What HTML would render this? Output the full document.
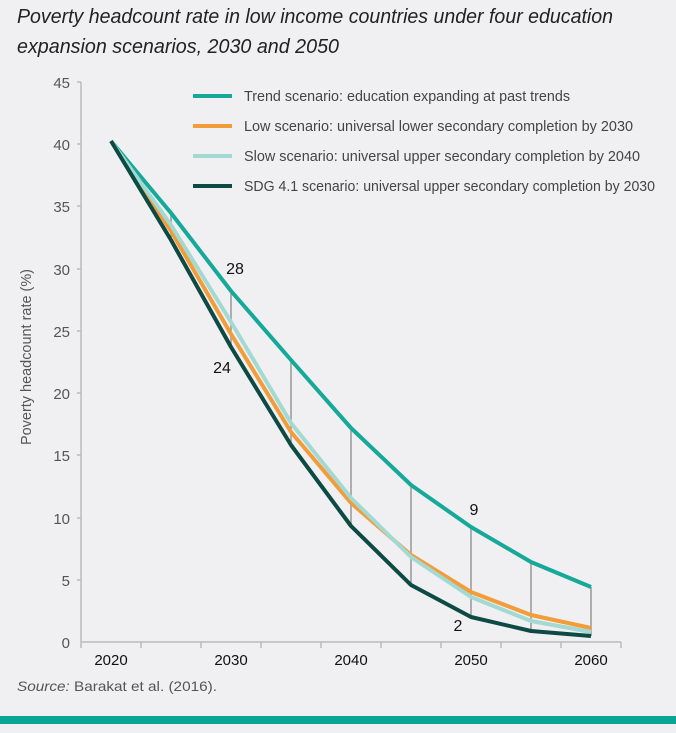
<!DOCTYPE html>
<html><head><meta charset="utf-8"><style>
body{margin:0;background:#f0f0f2;}
svg{display:block;font-family:"Liberation Sans",sans-serif;}
</style></head><body>
<svg width="676" height="733" viewBox="0 0 676 733">
<rect width="676" height="733" fill="#f0f0f2"/>
<text x="17" y="23" font-size="20" font-style="italic" fill="#222" textLength="596" lengthAdjust="spacingAndGlyphs">Poverty headcount rate in low income countries under four education</text>
<text x="17" y="53" font-size="20" font-style="italic" fill="#222" textLength="322" lengthAdjust="spacingAndGlyphs">expansion scenarios, 2030 and 2050</text>
<line x1="81" y1="82" x2="81" y2="642" stroke="#bbb" stroke-width="1.5"/>
<line x1="81" y1="642" x2="621" y2="642" stroke="#bbb" stroke-width="1.5"/>
<g stroke="#bbb" stroke-width="1.5">
<line x1="77" y1="82" x2="81" y2="82"/><line x1="77" y1="144" x2="81" y2="144"/><line x1="77" y1="206" x2="81" y2="206"/><line x1="77" y1="269" x2="81" y2="269"/><line x1="77" y1="331" x2="81" y2="331"/><line x1="77" y1="393" x2="81" y2="393"/><line x1="77" y1="455" x2="81" y2="455"/><line x1="77" y1="518" x2="81" y2="518"/><line x1="77" y1="580" x2="81" y2="580"/>
<line x1="81" y1="642" x2="81" y2="648"/><line x1="141" y1="642" x2="141" y2="648"/><line x1="201" y1="642" x2="201" y2="648"/><line x1="261" y1="642" x2="261" y2="648"/><line x1="321" y1="642" x2="321" y2="648"/><line x1="381" y1="642" x2="381" y2="648"/><line x1="441" y1="642" x2="441" y2="648"/><line x1="501" y1="642" x2="501" y2="648"/><line x1="561" y1="642" x2="561" y2="648"/><line x1="621" y1="642" x2="621" y2="648"/>
</g>
<g font-size="15" fill="#555" text-anchor="end">
<text x="70" y="88">45</text><text x="70" y="150">40</text><text x="70" y="212">35</text><text x="70" y="275">30</text><text x="70" y="337">25</text><text x="70" y="399">20</text><text x="70" y="461">15</text><text x="70" y="524">10</text><text x="70" y="586">5</text><text x="70" y="648">0</text>
</g>
<g font-size="15" fill="#111" text-anchor="middle">
<text x="111" y="665">2020</text><text x="231" y="665">2030</text><text x="351" y="665">2040</text><text x="471" y="665">2050</text><text x="591" y="665">2060</text>
</g>
<text transform="translate(31,357) rotate(-90)" font-size="15" fill="#555" text-anchor="middle" textLength="176" lengthAdjust="spacingAndGlyphs">Poverty headcount rate (%)</text>
<g stroke="#999" stroke-width="1.5">
<line x1="171" y1="213" x2="171" y2="240"/>
<line x1="231" y1="291" x2="231" y2="347"/>
<line x1="291" y1="360" x2="291" y2="445"/>
<line x1="351" y1="428" x2="351" y2="526"/>
<line x1="411" y1="485" x2="411" y2="585"/>
<line x1="471" y1="527" x2="471" y2="617"/>
<line x1="531" y1="562" x2="531" y2="631"/>
<line x1="591" y1="587" x2="591" y2="636"/>
</g>
<g fill="none" stroke-width="4" stroke-linejoin="round">
<polyline stroke="#16a99a" points="111,141 171,213 231,291 291,360 351,428 411,485 471,527 531,562 591,587"/>
<polyline stroke="#f39c3a" points="111,141 171,231 231,334 291,432 351,503 411,555 471,592 531,615 591,628"/>
<polyline stroke="#a3d9d3" points="111,141 171,225 231,322 291,423 351,498 411,557 471,597 531,621 591,632"/>
<polyline stroke="#0d4a44" points="111,141 171,240 231,347 291,445 351,526 411,585 471,617 531,631 591,636"/>
</g>
<g font-size="16" fill="#111" text-anchor="middle">
<text x="235" y="274">28</text><text x="222" y="373">24</text><text x="474" y="515">9</text><text x="458" y="631">2</text>
</g>
<g stroke-width="4">
<line x1="193" y1="96" x2="232" y2="96" stroke="#16a99a"/>
<line x1="193" y1="126" x2="232" y2="126" stroke="#f39c3a"/>
<line x1="193" y1="156" x2="232" y2="156" stroke="#a3d9d3"/>
<line x1="193" y1="186" x2="232" y2="186" stroke="#0d4a44"/>
</g>
<g font-size="15" fill="#444">
<text x="244" y="101" textLength="326" lengthAdjust="spacingAndGlyphs">Trend scenario: education expanding at past trends</text>
<text x="244" y="131" textLength="389" lengthAdjust="spacingAndGlyphs">Low scenario: universal lower secondary completion by 2030</text>
<text x="244" y="161" textLength="396" lengthAdjust="spacingAndGlyphs">Slow scenario: universal upper secondary completion by 2040</text>
<text x="244" y="191" textLength="411" lengthAdjust="spacingAndGlyphs">SDG 4.1 scenario: universal upper secondary completion by 2030</text>
</g>
<text x="17" y="691" font-size="14" fill="#555" textLength="200" lengthAdjust="spacingAndGlyphs"><tspan font-style="italic">Source:</tspan> Barakat et al. (2016).</text>
<rect x="0" y="716" width="676" height="8" fill="#0aa593"/>
</svg>
</body></html>
